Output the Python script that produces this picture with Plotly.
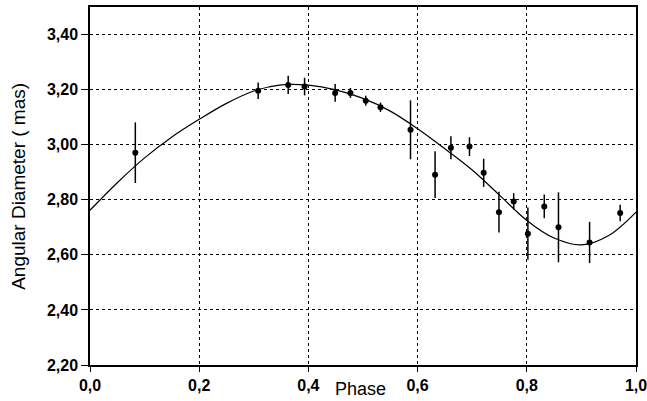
import plotly.graph_objects as go

# Observed data points
phase = [0.083, 0.308, 0.363, 0.393, 0.449, 0.477, 0.505, 0.532, 0.587, 0.632,
         0.661, 0.695, 0.721, 0.749, 0.776, 0.802, 0.832, 0.858, 0.915, 0.971]
diameter = [2.971, 3.196, 3.217, 3.211, 3.188, 3.188, 3.160, 3.136, 3.054, 2.891,
            2.989, 2.993, 2.898, 2.755, 2.794, 2.677, 2.776, 2.700, 2.645, 2.752]
err = [0.110, 0.030, 0.033, 0.032, 0.032, 0.018, 0.018, 0.017, 0.107, 0.085,
       0.042, 0.034, 0.051, 0.074, 0.030, 0.095, 0.043, 0.127, 0.075, 0.030]

# Fitted curve
curve_phase = [0.0, 0.05, 0.1, 0.15, 0.2, 0.25, 0.3, 0.35, 0.4, 0.45, 0.5,
               0.55, 0.6, 0.65, 0.7, 0.75, 0.8, 0.85, 0.9, 0.95, 1.0]
curve_diam = [2.762, 2.862, 2.952, 3.028, 3.092, 3.150, 3.195, 3.217, 3.216, 3.199, 3.168,
              3.122, 3.058, 2.985, 2.908, 2.817, 2.725, 2.661, 2.636, 2.670, 2.755]

x_ticks = [0.0, 0.2, 0.4, 0.6, 0.8, 1.0]
y_ticks = [2.2, 2.4, 2.6, 2.8, 3.0, 3.2, 3.4]

FONT = "Liberation Sans, Arial, sans-serif"
L, R, T, B = 90, 11, 7, 36
PW, PH = 647 - L - R, 401 - T - B

fig = go.Figure()
fig.add_trace(go.Scatter(x=curve_phase, y=curve_diam, mode="lines",
                         line=dict(color="black", width=1.2, shape="spline"),
                         showlegend=False, hoverinfo="skip"))
fig.add_trace(go.Scatter(x=phase, y=diameter, mode="markers",
                         marker=dict(color="black", size=6, symbol="circle"),
                         error_y=dict(type="data", array=err, color="black",
                                      thickness=1.5, width=0),
                         showlegend=False))

tick_font = dict(family=FONT, size=16, color="black", weight="bold")
fig.update_layout(
    width=647, height=401,
    margin=dict(l=L, r=R, t=T, b=B),
    plot_bgcolor="white", paper_bgcolor="white",
    separators=",.",
    font=dict(family=FONT, color="black"),
    xaxis=dict(range=[0, 1], tickvals=x_ticks, tickformat=".1f",
               showgrid=True, gridcolor="black", griddash="dot", gridwidth=1,
               showline=True, linecolor="black", linewidth=1.5, mirror=True,
               ticks="outside", ticklen=5, tickcolor="black",
               tickfont=tick_font, zeroline=False, automargin=False,
               ticklabeloverflow="allow"),
    yaxis=dict(range=[2.2, 3.5], tickvals=y_ticks, tickformat=".2f",
               showgrid=True, gridcolor="black", griddash="dot", gridwidth=1,
               showline=True, linecolor="black", linewidth=1.5, mirror=True,
               ticks="outside", ticklen=7, tickcolor="black",
               tickfont=tick_font, zeroline=False, automargin=False),
    annotations=[
        dict(text="Phase", xref="paper", yref="paper", x=0.496, y=-24 / PH,
             xanchor="center", yanchor="middle", showarrow=False,
             font=dict(family=FONT, size=18, color="black")),
        dict(text="Angular Diameter ( mas)", xref="paper", yref="paper",
             x=(18.5 - L) / PW, y=0.499, textangle=-90,
             xanchor="center", yanchor="middle", showarrow=False,
             font=dict(family=FONT, size=19, color="black")),
    ],
)

fig.write_html("out.html", config={"displayModeBar": False},
               post_script="document.body.style.margin='0';document.body.style.padding='0';document.body.style.overflow='hidden';")
